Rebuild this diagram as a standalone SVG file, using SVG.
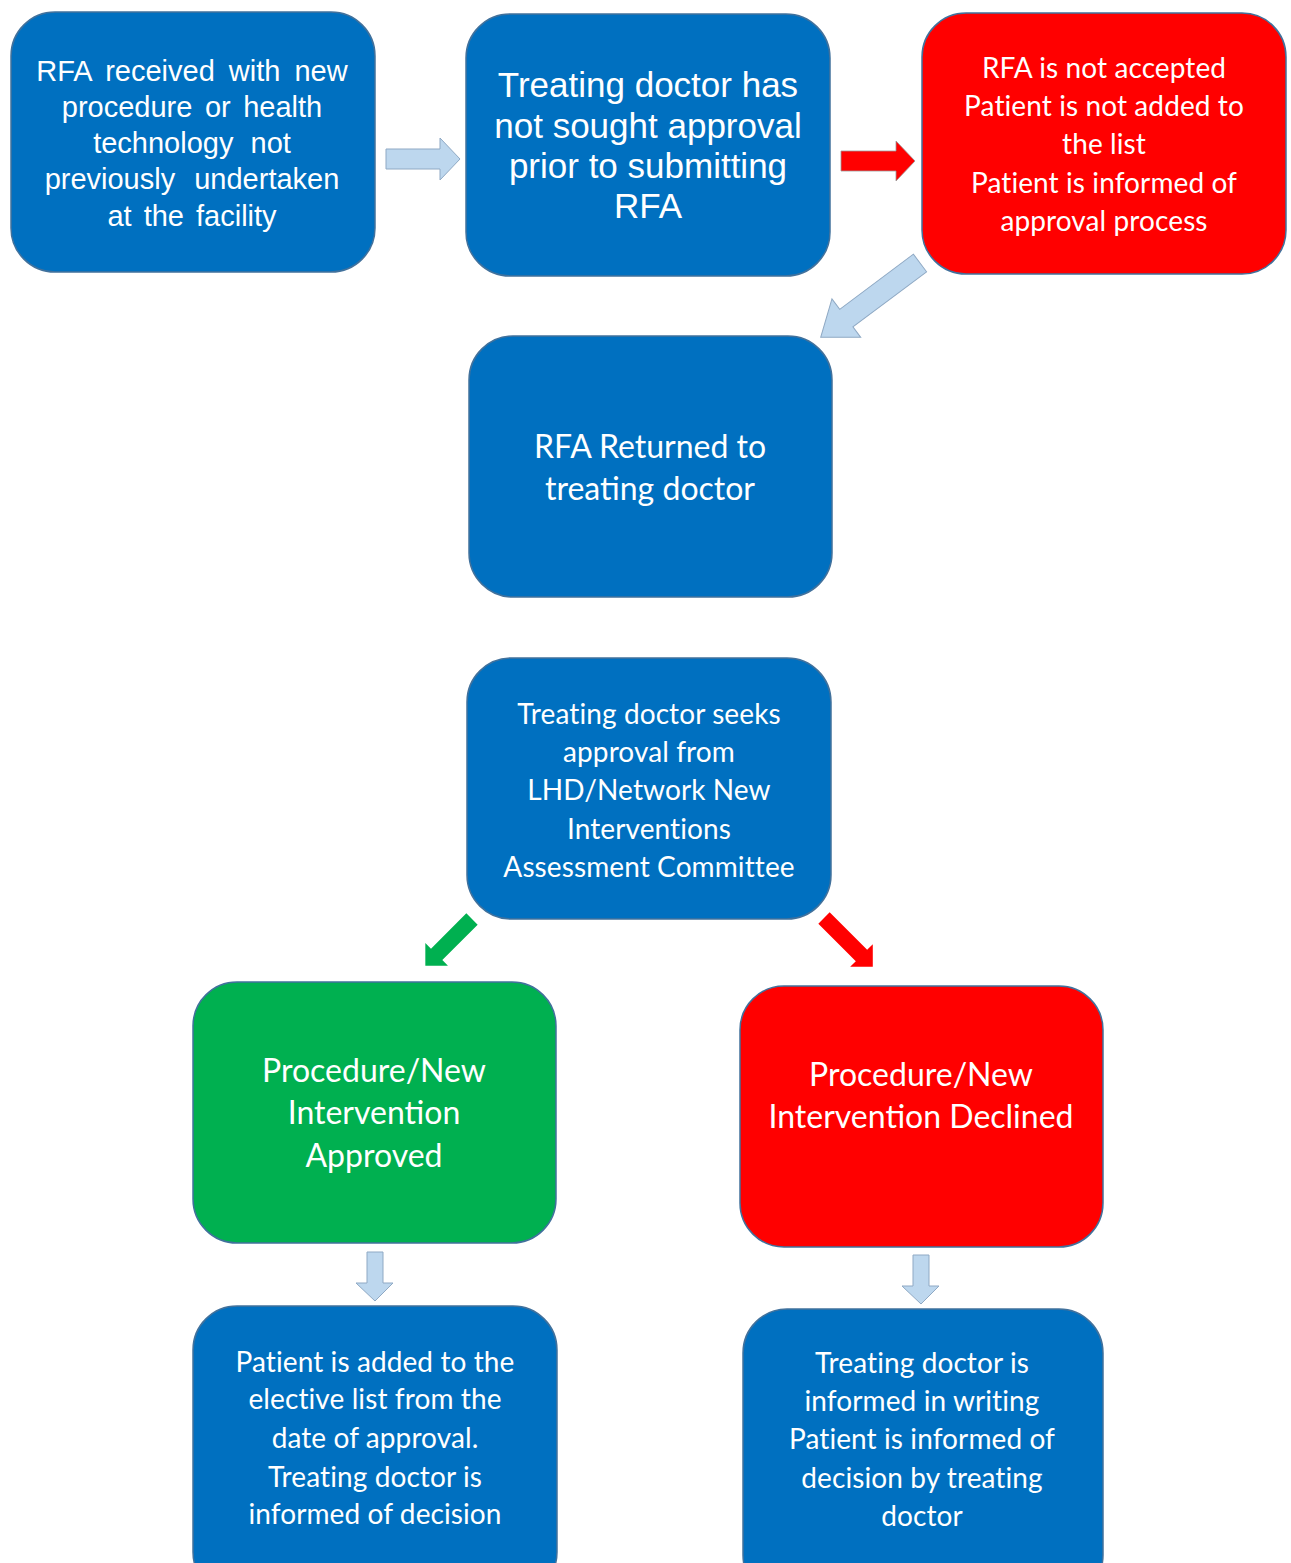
<svg xmlns="http://www.w3.org/2000/svg" width="1291" height="1563" viewBox="0 0 1291 1563">
<style>
.box{stroke:#41719C;stroke-width:1.5}
.blue{fill:#0070C0}.red{fill:#FF0000}.green{fill:#00B050}
.t{fill:#fff;text-anchor:middle}
.ar{font-family:"Liberation Sans",Arial,sans-serif}
.ca{font-family:Lato,"Open Sans",sans-serif}
.sm{font-size:28px;letter-spacing:0.1px}
.lb{fill:#BDD7EE;stroke:#8FA9C4;stroke-width:1}
.ra{fill:#FF0000}
.ga{fill:#00B050}
</style>
<rect width="1291" height="1563" fill="#fff"/>
<g id="connectors">
<path class="lb" d="M386,149 H440 V138 L460,159 L440,180 V169 H386 Z"/>
<path class="ra" stroke="#999" stroke-width="0.8" d="M841,151 H896 V141 L915,161 L896,181 V171 H841 Z"/>
<path class="lb" transform="translate(920,263) rotate(143.2)" d="M0,-11 H92 V-24 L124,0 L92,24 V11 H0 Z"/>
<path class="ga" transform="translate(472,919) rotate(135)" d="M0,-8 H50 V-16 L66,0 L50,16 V8 H0 Z"/>
<path class="ra" transform="translate(824,918) rotate(45)" d="M0,-8 H53 V-16 L69,0 L53,16 V8 H0 Z"/>
<path class="lb" d="M367,1252 H383 V1283 H393 L375,1301 L356,1283 H367 Z"/>
<path class="lb" d="M913,1255 H929 V1286 H939 L921,1304 L902,1286 H913 Z"/>
</g>
<g id="n1">
<rect class="box blue" x="11" y="12" width="364" height="260" rx="44"/>
<text class="t ar" font-size="29" x="192" y="81" word-spacing="6">RFA received with new</text>
<text class="t ar" font-size="29" x="192" y="117" word-spacing="4.5">procedure or health</text>
<text class="t ar" font-size="29" x="192" y="153" word-spacing="9">technology not</text>
<text class="t ar" font-size="29" x="192" y="189" word-spacing="11">previously undertaken</text>
<text class="t ar" font-size="29" x="192" y="226" word-spacing="4">at the facility</text>
</g>
<g id="n2">
<rect class="box blue" x="466" y="14" width="364" height="262" rx="44"/>
<text class="t ar" font-size="35" x="648" y="97">Treating doctor has</text>
<text class="t ar" font-size="35" x="648" y="138">not sought approval</text>
<text class="t ar" font-size="35" x="648" y="178">prior to submitting</text>
<text class="t ar" font-size="35" x="648" y="218">RFA</text>
</g>
<g id="n3">
<rect class="box red" x="922" y="13" width="364" height="261" rx="44"/>
<text class="t ca sm" x="1104" y="78">RFA is not accepted</text>
<text class="t ca sm" x="1104" y="116">Patient is not added to</text>
<text class="t ca sm" x="1104" y="154">the list</text>
<text class="t ca sm" x="1104" y="193">Patient is informed of</text>
<text class="t ca sm" x="1104" y="231">approval process</text>
</g>
<g id="n4">
<rect class="box blue" x="469" y="336" width="363" height="261" rx="44"/>
<text class="t ca" font-size="32" x="650" y="458">RFA Returned to</text>
<text class="t ca" font-size="32" x="650" y="500">treating doctor</text>
</g>
<g id="n5">
<rect class="box blue" x="467" y="658" width="364" height="261" rx="44"/>
<text class="t ca sm" x="649" y="724">Treating doctor seeks</text>
<text class="t ca sm" x="649" y="762">approval from</text>
<text class="t ca sm" x="649" y="800">LHD/Network New</text>
<text class="t ca sm" x="649" y="839">Interventions</text>
<text class="t ca sm" x="649" y="877">Assessment Committee</text>
</g>
<g id="n6">
<rect class="box green" x="193" y="982" width="363" height="261" rx="44"/>
<text class="t ca" font-size="32" x="374" y="1082">Procedure/New</text>
<text class="t ca" font-size="32" x="374" y="1124">Intervention</text>
<text class="t ca" font-size="32" x="374" y="1167">Approved</text>
</g>
<g id="n7">
<rect class="box red" x="740" y="986" width="363" height="261" rx="44"/>
<text class="t ca" font-size="32" x="921" y="1086">Procedure/New</text>
<text class="t ca" font-size="32" x="921" y="1128">Intervention Declined</text>
</g>
<g id="n8">
<rect class="box blue" x="193" y="1306" width="364" height="290" rx="44"/>
<text class="t ca sm" x="375" y="1372">Patient is added to the</text>
<text class="t ca sm" x="375" y="1409">elective list from the</text>
<text class="t ca sm" x="375" y="1448">date of approval.</text>
<text class="t ca sm" x="375" y="1487">Treating doctor is</text>
<text class="t ca sm" x="375" y="1524">informed of decision</text>
</g>
<g id="n9">
<rect class="box blue" x="743" y="1309" width="360" height="290" rx="44"/>
<text class="t ca sm" x="922" y="1373">Treating doctor is</text>
<text class="t ca sm" x="922" y="1411">informed in writing</text>
<text class="t ca sm" x="922" y="1449">Patient is informed of</text>
<text class="t ca sm" x="922" y="1488">decision by treating</text>
<text class="t ca sm" x="922" y="1526">doctor</text>
</g>
</svg>
